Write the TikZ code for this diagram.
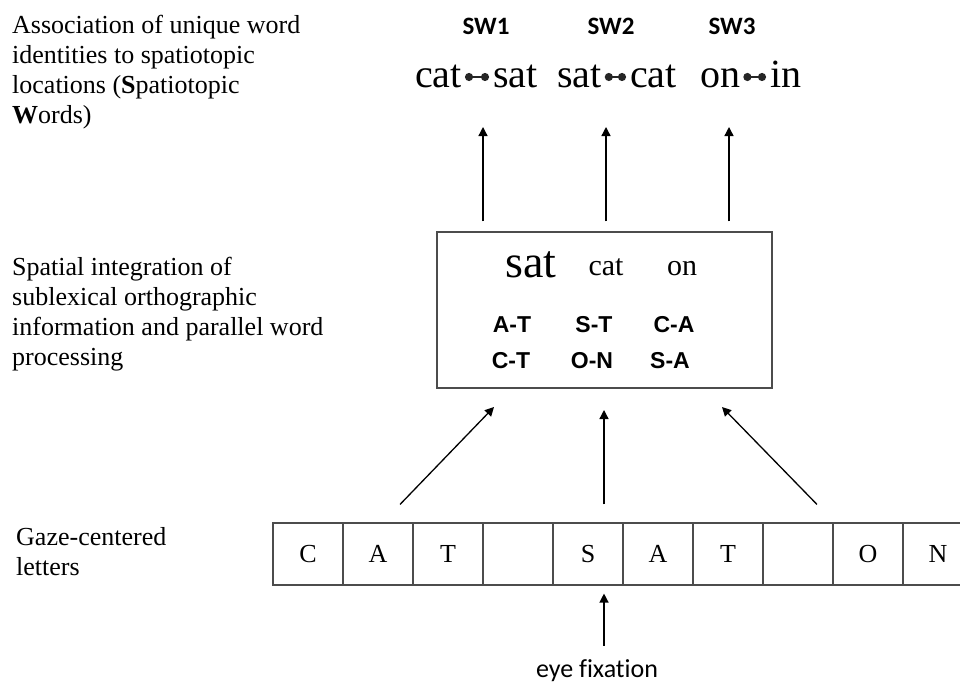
\documentclass[tikz,border=0pt]{standalone}
\usepackage{fontspec}
\setmainfont{Liberation Serif}
\newfontfamily\arialfont{Liberation Sans}
\newfontfamily\calibrifont[Ligatures=NoCommon]{Carlito}
\usetikzlibrary{arrows.meta,calc}

\tikzset{
  side/.style={anchor=north west,align=left,font=\fontsize{26}{30}\selectfont},
  cell/.style={draw=black!70,line width=1.1pt,minimum width=70pt,minimum height=62pt,
    font=\fontsize{26}{30}\selectfont},
  upline/.style={-{Triangle[length=9pt,width=9pt]},line width=1.3pt},
  link/.style={{Circle[length=8pt]}-{Circle[length=8pt]},line width=2.4pt,black!85},
  word/.style={anchor=base west,font=\fontsize{40}{44}\selectfont},
  swlab/.style={anchor=base,font=\calibrifont\bfseries\fontsize{25}{28}\selectfont},
  pair/.style={anchor=base,font=\arialfont\bfseries\fontsize{23}{26}\selectfont}
}

\begin{document}
\begin{tikzpicture}[x=1pt,y=-1pt,every node/.style={inner sep=0pt}]
        \useasboundingbox (0,0) rectangle (960,682);
        %% level labels
        \node[side] (lab1) at (12,15) {Association of unique word\\identities to spatiotopic\\locations (\textbf{S}patiotopic\\\textbf{W}ords)};
        \node[side] (lab2) at (12,257) {Spatial integration of\\sublexical orthographic\\information and parallel word\\processing};
        \node[side] (lab3) at (16,527) {Gaze-centered\\letters};
        %% spatiotopic words
        \node[swlab] (sw1) at (486,35) {SW1};
        \node[swlab] (sw2) at (611,35) {SW2};
        \node[swlab] (sw3) at (732,35) {SW3};
        \node[word] (w1a) at (415,88) {cat};
        \node[word] (w1b) at (493,88) {sat};
        \node[word] (w2a) at (557,88) {sat};
        \node[word] (w2b) at (630,88) {cat};
        \node[word] (w3a) at (700,88) {on};
        \node[word] (w3b) at (770,88) {in};
        \foreach \a/\b in {w1a/w1b,w2a/w2b,w3a/w3b}
            \draw[link] ($(\a.base east)+(3,-11)$) -- ($(\b.base west)+(-4,-11)$);
        %% integration box
        \node[draw=black!70,line width=1.1pt,minimum width=335pt,minimum height=156pt] (integ) at (604.5,310) {};
        \node[anchor=base,font=\fontsize{46}{50}\selectfont] (big) at (531,277) {sat};
        \node[anchor=base,font=\fontsize{30}{34}\selectfont] (mid) at (606,275) {cat};
        \node[anchor=base,font=\fontsize{30}{34}\selectfont] (far) at (682,275) {on};
        \node[pair] (p1) at (512,332) {A-T};
        \node[pair] (p2) at (594,332) {S-T};
        \node[pair] (p3) at (674,332) {C-A};
        \node[pair] (p4) at (511,368) {C-T};
        \node[pair] (p5) at (592,368) {O-N};
        \node[pair] (p6) at (670,368) {S-A};
        %% letters
        \foreach \l [count=\i] in {C,A,T,{},S,A,T,{},O,N}
            \node[cell] (c\i) at (238+70*\i,554) {\l};
        \node[anchor=base,font=\calibrifont\fontsize{26}{30}\selectfont] (fix) at (597,677) {eye fixation};
        %% arrows
        \coordinate (outL) at (483,127);
        \coordinate (outM) at (606,127);
        \coordinate (outR) at (729,127);
        \draw[upline] ([yshift=10pt]integ.north -| outL) -- (outL);
        \draw[upline] ([yshift=10pt]integ.north -| outM) -- (outM);
        \draw[upline] ([yshift=10pt]integ.north -| outR) -- (outR);
        \coordinate (inL) at (494,407);
        \coordinate (inM) at (604,410);
        \coordinate (inR) at (722,407);
        \draw[upline] ([yshift=18pt]c2.north -| 400,0) -- (inL);
        \draw[upline] ([yshift=18pt]c5.north -| inM) -- (inM);
        \draw[upline] ([yshift=18pt]c8.north -| 817,0) -- (inR);
        \draw[upline] ([yshift=13pt]fix.north -| inM) -- ([yshift=-8pt]c5.south -| inM);
\end{tikzpicture}
\end{document}
